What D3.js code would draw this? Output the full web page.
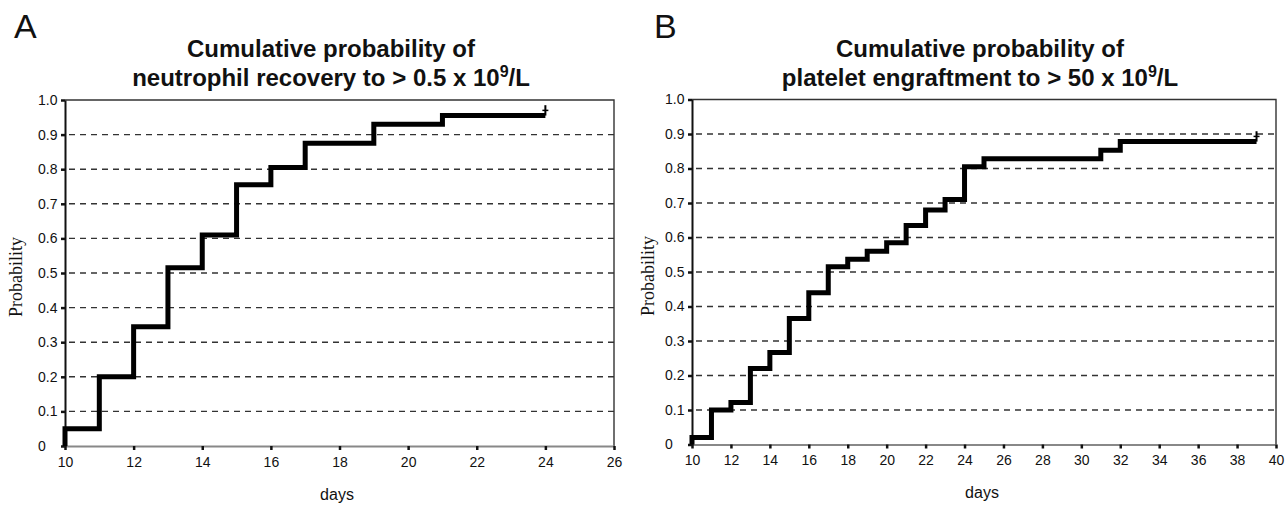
<!DOCTYPE html>
<html lang="en">
<head>
<meta charset="UTF-8">
<title>Cumulative probability</title>
<script src="https://cdn.jsdelivr.net/npm/d3@7"></script>
<style>
  body { margin:0; background:#fff; }
  svg text { font-family: "Liberation Sans", Arial, sans-serif; fill:#111; }
  .serif { font-family: "Liberation Serif", "Times New Roman", serif !important; }
</style>
</head>
<body>
<svg id="chart" width="1287" height="507"></svg>
<script>
// data
const neutDays = [10, 10, 11, 12, 13, 14, 15, 16, 17, 19, 21, 24]
const neutProb = [0, 0.05, 0.2, 0.345, 0.515, 0.61, 0.755, 0.805, 0.875, 0.93, 0.955, 0.955]

const platDays = [10, 10, 11, 12, 13, 14, 15, 16, 17, 18, 19, 20, 21, 22, 23, 24, 25, 31, 32, 39]
const platProb = [0, 0.02, 0.1, 0.122, 0.22, 0.267, 0.365, 0.44, 0.515, 0.537, 0.56, 0.585, 0.635, 0.68, 0.71, 0.805, 0.828, 0.853, 0.878, 0.878]

const yTicks = [0, 0.1, 0.2, 0.3, 0.4, 0.5, 0.6, 0.7, 0.8, 0.9, 1.0]
const neutXTicks = [10, 12, 14, 16, 18, 20, 22, 24, 26]
const platXTicks = [10, 12, 14, 16, 18, 20, 22, 24, 26, 28, 30, 32, 34, 36, 38, 40]

const panels = [
  {letter:'A', lx:14, title1:'Cumulative probability of', title2:'neutrophil recovery to > 0.5 x 10',
   tx:331, left:65, right:614, top:100, bottom:446, xdom:[10,26], xticks:neutXTicks,
   days:neutDays, prob:neutProb, ylabX:16, daysX:337, daysY:500},
  {letter:'B', lx:654, title1:'Cumulative probability of', title2:'platelet engraftment to > 50 x 10',
   tx:980, left:692, right:1276, top:99.5, bottom:444.5, xdom:[10,40], xticks:platXTicks,
   days:platDays, prob:platProb, ylabX:648, daysX:982, daysY:498}
]

const svg = d3.select('#chart')

panels.forEach(p => {
  const g = svg.append('g')
  const x = d3.scaleLinear().domain(p.xdom).range([p.left, p.right])
  const y = d3.scaleLinear().domain([0, 1]).range([p.bottom, p.top])

  g.append('text').attr('x', p.lx).attr('y', 38)
    .attr('font-size', 34).text(p.letter)

  g.append('text').attr('x', p.tx).attr('y', 57).attr('text-anchor','middle')
    .attr('font-size', 24).attr('font-weight','bold').text(p.title1)
  const t2 = g.append('text').attr('x', p.tx).attr('y', 86).attr('text-anchor','middle')
    .attr('font-size', 24).attr('font-weight','bold')
  t2.append('tspan').text(p.title2)
  t2.append('tspan').attr('dy', -9).attr('font-size', 16).text('9')
  t2.append('tspan').attr('dy', 9).text('/L')

  // dashed gridlines
  g.selectAll('.grid').data(yTicks.filter(t => t > 0 && t < 1)).enter()
    .append('line')
    .attr('x1', p.left + 4).attr('x2', p.right)
    .attr('y1', d => y(d)).attr('y2', d => y(d))
    .attr('stroke', '#333').attr('stroke-width', 1.4)
    .attr('stroke-dasharray', '6,5')

  // frame top + right
  g.append('path')
    .attr('d', `M${p.left},${y(1)}H${p.right}V${p.bottom}`)
    .attr('fill','none').attr('stroke','#333').attr('stroke-width',1.4)

  // x axis
  const xAxis = g.append('g').attr('transform','translate(0,'+p.bottom+')')
    .call(d3.axisBottom(x).tickValues(p.xticks).tickSize(4).tickSizeOuter(0).tickPadding(7))
  xAxis.select('.domain').attr('stroke','#888').attr('stroke-width',2)
  xAxis.selectAll('line').attr('stroke','#111').attr('stroke-width',2.5)
  xAxis.selectAll('text').attr('font-size',14).attr('fill','#222')

  // y axis
  const yAxis = g.append('g').attr('transform','translate('+p.left+',0)')
    .call(d3.axisLeft(y).tickValues(yTicks).tickSize(4).tickSizeOuter(0)
      .tickFormat(d => d === 0 ? '0' : d3.format('.1f')(d)))
  yAxis.select('.domain').attr('stroke','#111').attr('stroke-width',2)
  yAxis.selectAll('line').attr('stroke','#111').attr('stroke-width',2.5)
  yAxis.selectAll('text').attr('font-size',14).attr('fill','#222')
    .attr('text-anchor','start').attr('x',-27)

  g.append('text').attr('class','serif')
    .attr('transform','translate('+p.ylabX+','+((p.top+p.bottom)/2 + 4)+') rotate(-90)')
    .attr('text-anchor','middle').attr('dy','0.35em').attr('font-size',18)
    .text('Probability')

  g.append('text').attr('x',p.daysX).attr('y',p.daysY)
    .attr('text-anchor','middle').attr('font-size',16).text('days')

  // step curve
  const pts = p.days.map((d,i) => [d, p.prob[i]])
  const line = d3.line().x(d => x(d[0])).y(d => y(d[1])).curve(d3.curveStepAfter)
  g.append('path').attr('d', line(pts))
    .attr('fill','none').attr('stroke','#000').attr('stroke-width',5)
    .attr('stroke-linejoin','miter')

  // censor mark at the end
  const last = pts[pts.length-1]
  g.append('line')
    .attr('x1', x(last[0])).attr('x2', x(last[0]))
    .attr('y1', y(last[1])).attr('y2', y(last[1] + 0.03))
    .attr('stroke','#000').attr('stroke-width',2)
  g.append('line')
    .attr('x1', x(last[0]) - 3).attr('x2', x(last[0]) + 3)
    .attr('y1', y(last[1] + 0.015)).attr('y2', y(last[1] + 0.015))
    .attr('stroke','#000').attr('stroke-width',1.5)
})
</script>
</body>
</html>
